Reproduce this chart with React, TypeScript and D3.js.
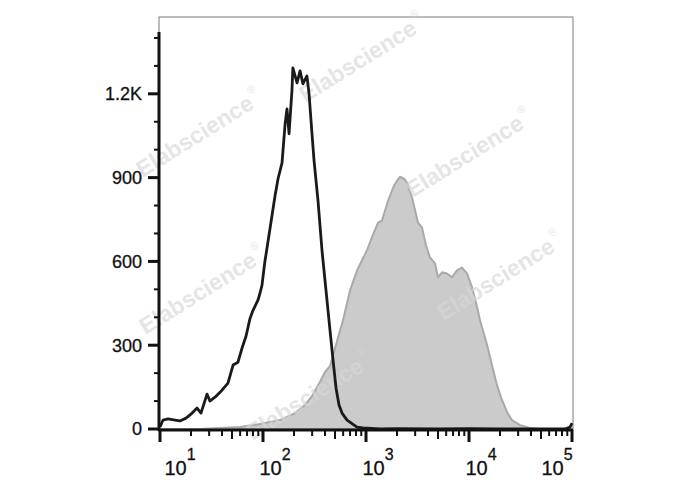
import { useEffect, useRef } from "react";
import * as d3 from "d3";

// unstained / control histogram (black outline)
const blackIntensity = [
  10, 10.7, 12.0, 14.0, 15.6, 17.9, 20.5, 22.9, 25.0, 28.6, 30.5, 34.2, 40.0,
  45.7, 51.2, 57.1, 62.5, 68.4, 74.8, 80.0, 89.3, 93.5, 97.7, 104, 117, 131,
  140, 153, 164, 171, 179, 191, 195, 214, 229, 244, 267, 280, 299, 313, 342,
  374, 409, 447, 479, 512, 547, 585, 655, 818, 935, 1370, 2000, 5000, 10000,
  20000, 50000, 85500, 95700, 100000,
];
const blackCount = [
  7, 32, 36, 32, 29, 39, 57, 75, 57, 125, 100, 114, 139, 164, 229, 239, 289,
  332, 396, 425, 461, 486, 514, 596, 718, 836, 896, 953, 1093, 1146, 1057,
  1211, 1293, 1239, 1282, 1236, 1264, 1200, 1057, 961, 818, 639, 496, 354, 246,
  146, 86, 57, 32, 7, 4, 0, 1, 0, 1, 0, 0, 0, 7, 21,
];

// stained histogram (gray filled)
const grayIntensity = [
  10, 24.4, 59.8, 93.5, 146, 205, 256, 299, 357, 400, 447, 500, 598, 700, 818,
  914, 1020, 1140, 1310, 1430, 1640, 1870, 2000, 2140, 2340, 2500, 2800, 3200,
  3500, 3830, 4180, 4680, 5000, 5470, 6110, 6840, 7640, 8550, 9570, 10700,
  12000, 12800, 15000, 16700, 18700, 20900, 23400, 26100, 31300, 39100, 48900,
  100000,
];
const grayCount = [
  0, 0, 7, 18, 32, 57, 86, 118, 168, 204, 225, 289, 389, 496, 568, 604, 639,
  686, 739, 746, 818, 871, 889, 903, 896, 882, 828, 739, 721, 657, 614, 593,
  543, 561, 557, 543, 568, 578, 557, 507, 436, 389, 300, 229, 157, 104, 61, 32,
  14, 4, 0, 0,
];

const yMajorTicks = [0, 300, 600, 900, 1200];
const yMajorLabels = ["0", "300", "600", "900", "1.2K"];
const yMinorTicks = [100, 200, 400, 500, 700, 800, 1000, 1100, 1300, 1400];
const xDecades = [1, 2, 3, 4, 5];

// watermark centres
const wmX = [200, 363, 470, 203, 501, 310];
const wmY = [135, 60, 155, 292, 278, 398];

const W = 688;
const H = 490;
const left = 160;
const right = 572;
const top = 17;
const bottom = 429;
const font = "'Liberation Sans', Arial, sans-serif";

const FlowHistogram = () => {
  const svgRef = useRef(null);

  const makeChart = () => {
    const svg = d3.select(svgRef.current);
    svg.selectAll("*").remove();

    const x = d3.scaleLog().domain([10, 100000]).range([left, right]);
    const y = d3.scaleLinear().domain([0, 1475]).range([bottom, top]);

    const grayData = grayIntensity.map((v, i) => ({ v, c: grayCount[i] }));
    const blackData = blackIntensity.map((v, i) => ({ v, c: blackCount[i] }));

    // frame
    svg
      .append("rect")
      .attr("x", left - 1)
      .attr("y", top)
      .attr("width", right + 1 - (left - 1))
      .attr("height", bottom + 1 - top)
      .attr("fill", "none")
      .attr("stroke", "#7a7a7a")
      .attr("stroke-width", 1);

    const area = d3
      .area<{ v: number; c: number }>()
      .x((d) => x(d.v))
      .y0(y(0))
      .y1((d) => y(d.c));

    svg
      .append("path")
      .datum(grayData)
      .attr("d", area)
      .attr("fill", "#cbcbcb")
      .attr("stroke", "#a9a9a9")
      .attr("stroke-width", 2)
      .attr("stroke-linejoin", "round");

    // watermarks
    wmX.forEach((cx, i) => {
      const t = svg
        .append("text")
        .attr("transform", `translate(${cx},${wmY[i]}) rotate(-32)`)
        .attr("text-anchor", "middle")
        .attr("dominant-baseline", "middle")
        .style("font-family", font)
        .style("font-weight", "bold")
        .style("font-size", "23px")
        .attr("fill", "#d8d8d8")
        .attr("opacity", 0.65);
      t.append("tspan").text("Elabscience");
      t.append("tspan")
        .text("®")
        .attr("dy", -11)
        .attr("dx", 2)
        .style("font-size", "11px")
        .style("font-weight", "normal");
    });

    const line = d3
      .line<{ v: number; c: number }>()
      .x((d) => x(d.v))
      .y((d) => y(d.c));

    svg
      .append("path")
      .datum(blackData)
      .attr("d", line)
      .attr("fill", "none")
      .attr("stroke", "#1a1a1a")
      .attr("stroke-width", 2.8)
      .attr("stroke-linejoin", "round");

    // y axis
    const ax = svg.append("g").attr("stroke", "#111");
    ax.append("line")
      .attr("x1", left - 1)
      .attr("x2", left - 1)
      .attr("y1", 32)
      .attr("y2", bottom + 2)
      .attr("stroke-width", 3);
    yMajorTicks.forEach((t) => {
      ax.append("line")
        .attr("x1", left - 12)
        .attr("x2", left - 1)
        .attr("y1", y(t))
        .attr("y2", y(t))
        .attr("stroke-width", 3);
    });
    yMinorTicks.forEach((t) => {
      ax.append("line")
        .attr("x1", left - 6)
        .attr("x2", left - 1)
        .attr("y1", y(t))
        .attr("y2", y(t))
        .attr("stroke-width", 2);
    });
    yMajorTicks.forEach((t, i) => {
      svg
        .append("text")
        .attr("x", 142)
        .attr("y", y(t))
        .attr("dy", "0.36em")
        .attr("text-anchor", "end")
        .style("font-family", font)
        .style("font-size", "18px")
        .attr("fill", "#111")
        .attr("stroke", "#111")
        .attr("stroke-width", 0.3)
        .text(yMajorLabels[i]);
    });

    // x axis
    ax.append("line")
      .attr("x1", left - 2)
      .attr("x2", right + 1)
      .attr("y1", bottom + 1)
      .attr("y2", bottom + 1)
      .attr("stroke-width", 3);
    xDecades.forEach((e) => {
      const base = Math.pow(10, e);
      ax.append("line")
        .attr("x1", x(base))
        .attr("x2", x(base))
        .attr("y1", bottom + 1)
        .attr("y2", bottom + 13)
        .attr("stroke-width", 3);
      if (e < 5) {
        for (let m = 2; m <= 9; m++) {
          ax.append("line")
            .attr("x1", x(base * m))
            .attr("x2", x(base * m))
            .attr("y1", bottom + 1)
            .attr("y2", bottom + (m === 5 ? 10 : 7))
            .attr("stroke-width", 2);
        }
      }
    });
    xDecades.forEach((e, i) => {
      const off = i === 0 ? 20 : i === xDecades.length - 1 ? -15 : 12;
      const t = svg
        .append("text")
        .attr("x", x(Math.pow(10, e)) + off)
        .attr("y", 475)
        .attr("text-anchor", "middle")
        .style("font-family", font)
        .attr("fill", "#111")
        .attr("stroke", "#111")
        .attr("stroke-width", 0.3);
      t.append("tspan").text("10").style("font-size", "20px");
      t.append("tspan")
        .text(String(e))
        .attr("dy", -15)
        .style("font-size", "16px");
    });
  };

  useEffect(() => {
    makeChart();
  }, []);

  return (
    <svg
      ref={svgRef}
      width={W}
      height={H}
      style={{ position: "absolute", left: 0, top: 0, background: "#fff" }}
    />
  );
};

export default function App() {
  return <FlowHistogram />;
}
